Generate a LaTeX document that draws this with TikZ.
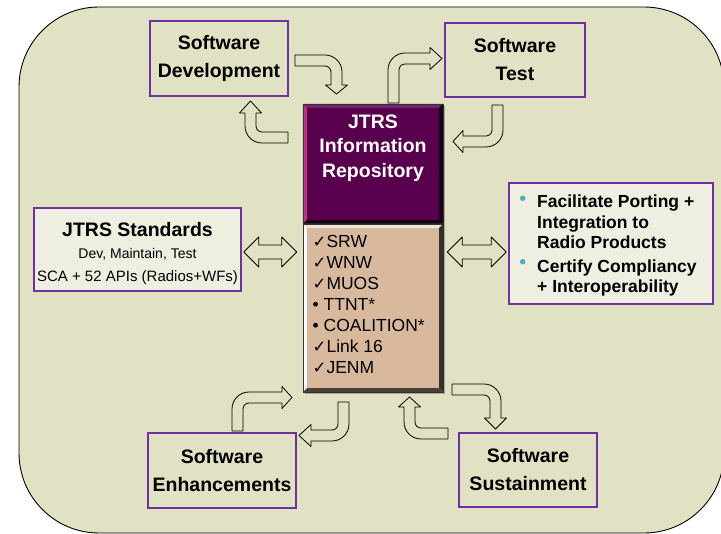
\documentclass[tikz,border=0pt]{standalone}
\usepackage{fontspec}
\setmainfont{Liberation Sans}
\newfontfamily\symfont{DejaVu Sans}
\usetikzlibrary{calc,shadows}

\definecolor{khaki}{RGB}{225,225,195}
\definecolor{paper}{RGB}{238,238,225}
\definecolor{boxpurple}{RGB}{112,48,160}
\definecolor{repopurple}{RGB}{88,0,78}
\definecolor{repotan}{RGB}{217,185,158}
\definecolor{bulletteal}{RGB}{75,172,198}

\tikzset{
  swbox/.style={draw=boxpurple, line width=1.6, fill=khaki, inner sep=0, align=center,
    font=\bfseries\fontsize{19.5}{28}\selectfont},
  infobox/.style={draw=boxpurple, line width=1.6, fill=paper, inner sep=0},
  repobox/.style={inner sep=0, drop shadow={shadow xshift=2pt, shadow yshift=-2pt, opacity=.4, fill=black!70}},
  bentarr/.style={draw=black, line width=0.8, fill=khaki, line join=round},
}

% check mark for the list
\newcommand{\ck}{{\symfont\fontsize{16.5}{16.5}\selectfont ✓}}

% bent block arrow: origin, rotation, first leg, second leg, head length
\newcommand{\bentarrow}[5]{%
  \begin{scope}[shift={#1}, rotate=#2]
    \draw[bentarr] (0,0) -- (#3,0) .. controls (#3+9.4,0) and (#3+17,7.6) .. (#3+17,17)
      -- (#3+17,#4) -- (#3+22.5,#4) -- (#3+11.5,#4+#5) -- (#3+0.5,#4) -- (#3+6,#4)
      -- (#3+6,17) .. controls (#3+6,13.7) and (#3+3.3,11) .. (#3,11) -- (0,11) -- cycle;
  \end{scope}}

% two-headed block arrow between two tips
\newcommand{\dblarrow}[2]{%
  \draw[bentarr] (#1) -- ($(#1)+(15,-15)$) -- ($(#1)+(15,-7)$) -- ($(#2)+(-15,-7)$)
    -- ($(#2)+(-15,-15)$) -- (#2) -- ($(#2)+(-15,15)$) -- ($(#2)+(-15,7)$)
    -- ($(#1)+(15,7)$) -- ($(#1)+(15,15)$) -- cycle;}

% bevel strips: node, left, top, right, bottom
\newcommand{\bevel}[5]{%
  \fill[#2] (#1.north west) -- (#1.south west) -- ($(#1.south west)+(4,-4)$) -- ($(#1.north west)+(4,4)$) -- cycle;
  \fill[#3] (#1.north west) -- (#1.north east) -- ($(#1.north east)+(-4,4)$) -- ($(#1.north west)+(4,4)$) -- cycle;
  \fill[#4] (#1.north east) -- (#1.south east) -- ($(#1.south east)+(-4,-4)$) -- ($(#1.north east)+(-4,4)$) -- cycle;
  \fill[#5] (#1.south west) -- (#1.south east) -- ($(#1.south east)+(-4,-4)$) -- ($(#1.south west)+(4,-4)$) -- cycle;}

\begin{document}
\begin{tikzpicture}[x=1pt, y=-1pt]
  \useasboundingbox (0,0) rectangle (721,534);
  \draw[fill=khaki, line width=0.9, rounded corners=80] (19,7) rectangle (724,533);

  % boxes round the repository
  \node[swbox, minimum width=138, minimum height=75] (dev) at (219,58.5) {Software\\Development};
  \node[swbox, minimum width=140, minimum height=74] (test) at (515,60) {Software\\Test};
  \node[swbox, minimum width=148, minimum height=75] (enh) at (222,470.5) {Software\\Enhancements};
  \node[swbox, minimum width=138, minimum height=74] (sust) at (528,470) {Software\\Sustainment};
  \node[infobox, minimum width=207, minimum height=83] (std) at (137.5,249.5) {};
  \node[infobox, minimum width=204, minimum height=121] (goals) at (611,243.5) {};

  % repository
  \node[repobox, fill=repopurple, minimum width=140, minimum height=120] (repo) at (373,164) {};
  \node[repobox, fill=repotan, minimum width=140, minimum height=168] (repolist) at (373,308) {};
  \bevel{repo}{magenta!60!repopurple}{repopurple!85!white}{black!75!repopurple}{black!80!repopurple}
  \bevel{repolist}{white}{repotan!40!white}{black!75!repotan}{black!65!repotan}
  \draw[line width=0.5, black!80] (repo.north west) rectangle (repo.south east);
  \draw[line width=0.5, black!80] (repolist.north west) rectangle (repolist.south east);

  \node[text=white, align=center, font=\bfseries\fontsize{19.5}{24.5}\selectfont] (repotitle) at (373,147.8)
    {JTRS\\Information\\Repository};
  \node[anchor=north west, inner sep=0, align=left, font=\fontsize{17.5}{21.1}\selectfont] (items) at (312.5,234.8)
    {\ck SRW\\\ck WNW\\\ck MUOS\\\textbullet\ TTNT*\\\textbullet\ COALITION*\\\ck Link 16\\\ck JENM};

  % standards text
  \node[anchor=base, font=\bfseries\fontsize{19.5}{24}\selectfont] (stdtitle) at (137.5,236.7) {JTRS Standards};
  \node[anchor=base, font=\fontsize{14}{17}\selectfont] (stdsub) at (137.5,258.3) {Dev, Maintain, Test};
  \node[anchor=base, font=\fontsize{15}{17}\selectfont] (stdapi) at (137.5,281.7) {SCA + 52 APIs (Radios+WFs)};

  % goals text
  \node[circle, fill=bulletteal, inner sep=0, minimum size=5.5] (dot1) at (522.7,198.3) {};
  \node[circle, fill=bulletteal, inner sep=0, minimum size=5.5] (dot2) at (522.7,261.7) {};
  \node[anchor=north west, inner sep=0, align=left, font=\bfseries\fontsize{17.5}{20.5}\selectfont] (goal1) at (537,194.8)
    {Facilitate Porting +\\Integration to\\Radio Products};
  \node[anchor=north west, inner sep=0, align=left, font=\bfseries\fontsize{17.5}{20.5}\selectfont] (goal2) at (537,259.2)
    {Certify Compliancy\\+ Interoperability};

  % bent arrows
  \bentarrow{(295,55)}{0}{30}{30}{9}
  \bentarrow{(288,143)}{180}{26}{30}{12}
  \bentarrow{(388,103)}{90}{33}{42}{12}
  \bentarrow{(503,105)}{-90}{25}{40}{10}
  \bentarrow{(232,431)}{90}{22}{50}{10}
  \bentarrow{(349,402)}{-90}{22}{38}{12}
  \bentarrow{(448,439)}{180}{27}{32}{10}
  \bentarrow{(452,384)}{0}{32}{34}{11}

  % double arrows
  \coordinate (d1l) at ($(std.east)+(2,2.5)$);
  \coordinate (d1r) at ($(repolist.west |- d1l)+(-6,0)$);
  \coordinate (d2l) at ($(repolist.east |- d1l)+(4,0)$);
  \coordinate (d2r) at ($(goals.west |- d1l)+(-2,0)$);
  \dblarrow{d1l}{d1r}
  \dblarrow{d2l}{d2r}
\end{tikzpicture}
\end{document}
